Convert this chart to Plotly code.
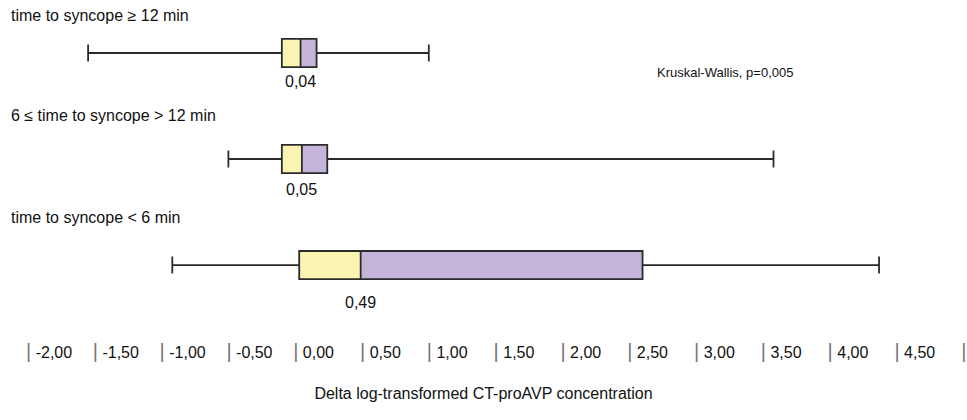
import plotly.graph_objects as go

# Groups, top to bottom
groups = ["time to syncope ≥ 12 min", "6 ≤ time to syncope > 12 min", "time to syncope < 6 min"]
lower_whisker = [-1.55, -0.50, -0.92]
q1 = [-0.10, -0.10, 0.03]
median = [0.04, 0.05, 0.49]
q3 = [0.16, 0.24, 2.60]
upper_whisker = [1.00, 3.58, 4.37]

tick_values = [-2.0, -1.5, -1.0, -0.5, 0.0, 0.5, 1.0, 1.5, 2.0, 2.5, 3.0, 3.5, 4.0, 4.5, 5.0]

stat_text = "Kruskal-Wallis, p=0,005"
x_title = "Delta log-transformed CT-proAVP concentration"

YELLOW = "#faf3b2"
PURPLE = "#c4b4d9"
LINE = "#2b2b2b"
TEXT = "#111111"
FONT = "Liberation Sans, Arial, sans-serif"

ypos = [3, 2, 1]
box_w = 0.265


def fmt(v):
    return f"{v:.2f}".replace(".", ",")


fig = go.Figure()

# lower half of the box (Q1 -> median)
fig.add_trace(go.Bar(
    y=ypos, x=[m - a for m, a in zip(median, q1)], base=q1,
    orientation="h", width=box_w, marker=dict(color=YELLOW, line=dict(width=0)),
    hoverinfo="skip", showlegend=False,
))
# upper half of the box (median -> Q3)
fig.add_trace(go.Bar(
    y=ypos, x=[b - m for b, m in zip(q3, median)], base=median,
    orientation="h", width=box_w, marker=dict(color=PURPLE, line=dict(width=0)),
    hoverinfo="skip", showlegend=False,
))
# outline, median line and whiskers
fig.add_trace(go.Box(
    y=ypos, q1=q1, median=median, q3=q3,
    lowerfence=lower_whisker, upperfence=upper_whisker,
    orientation="h", width=box_w, whiskerwidth=0.6,
    fillcolor="rgba(0,0,0,0)", line=dict(color=LINE, width=1.8),
    boxpoints=False, hoverinfo="skip", showlegend=False,
))

# group titles
label_shift = [38, 44, 48]
for y, name, s in zip(ypos, groups, label_shift):
    fig.add_annotation(x=0.009, xref="paper", xanchor="left", y=y, yref="y",
                       yshift=s, text=name, showarrow=False,
                       font=dict(family=FONT, size=16, color=TEXT))

# medians under each box
value_shift = [-28, -30, -37]
for y, m, s in zip(ypos, median, value_shift):
    fig.add_annotation(x=m, y=y, yshift=s, text=fmt(m), showarrow=False,
                       xanchor="center", font=dict(family=FONT, size=16, color=TEXT))

fig.add_annotation(x=655 / 967, xref="paper", xanchor="left", y=1 - 72 / 335, yref="paper",
                   yanchor="middle", text=stat_text, showarrow=False,
                   font=dict(family=FONT, size=13, color=TEXT))

tick_text = []
for v in tick_values:
    bar = "<span style='font-size:20px;color:#777777'>|</span>"
    tick_text.append(bar if v == tick_values[-1] else f"{bar} {fmt(v)}")

fig.update_layout(
    width=967, height=420,
    margin=dict(l=0, r=0, t=0, b=85),
    plot_bgcolor="white", paper_bgcolor="white",
    barmode="overlay",
    xaxis=dict(
        range=[-2.2096, 5.0284], tickvals=tick_values, ticktext=tick_text,
        ticklabelposition="outside right", ticklabeloverflow="allow",
        ticklabelshift=-2, ticklabelstandoff=6,
        showgrid=False, zeroline=False,
        showline=False, ticks="", tickfont=dict(family=FONT, size=16, color=TEXT),
        title=dict(text=x_title, font=dict(family=FONT, size=16, color=TEXT), standoff=26),
    ),
    yaxis=dict(range=[0.34, 3.5], visible=False),
)

fig.write_html("out.html")
